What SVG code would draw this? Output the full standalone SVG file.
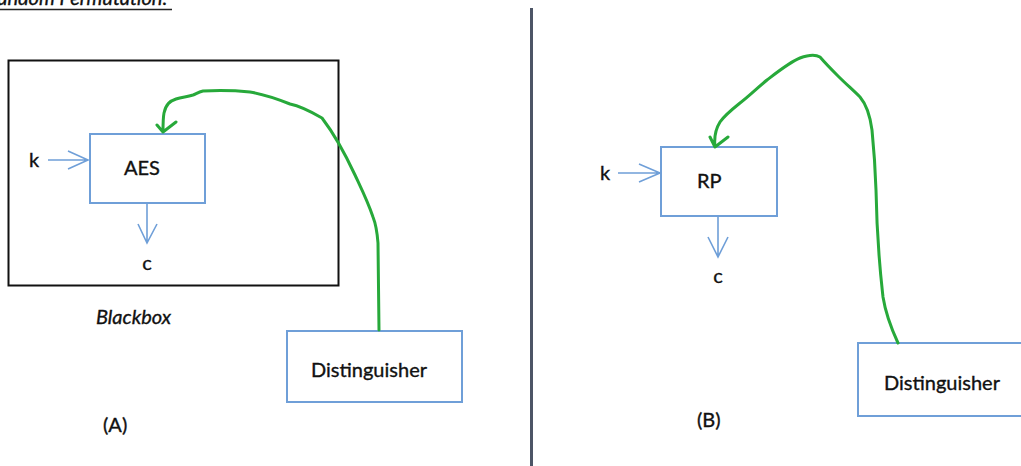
<svg xmlns="http://www.w3.org/2000/svg" width="1021" height="466" viewBox="0 0 1021 466">
<style>
text{font-family:Lato,"Open Sans","Liberation Sans",sans-serif;fill:#111;font-size:20px;stroke:#111;stroke-width:0.35}
.box{fill:#fff;stroke:#6f9fd8;stroke-width:2}
.blue{fill:none;stroke:#6f9fd8;stroke-width:1.6}
.green{fill:none;stroke:#27a93a;stroke-width:3;stroke-linecap:round;stroke-linejoin:round}
.c{text-anchor:middle}
</style>
<rect width="1021" height="466" fill="#fff"/>
<text x="-14" y="5" font-style="italic">Random Permutation:</text>
<line x1="0" y1="9.5" x2="172" y2="9.5" stroke="#222" stroke-width="1.5"/>
<line x1="531.5" y1="8" x2="531.5" y2="466" stroke="#4d5566" stroke-width="3"/>
<g id="blackbox">
<rect x="8.5" y="60.5" width="330" height="225" fill="none" stroke="#111" stroke-width="2"/>
<text x="96" y="324" font-style="italic" font-size="19">Blackbox</text>
</g>
<g id="aes">
<rect class="box" x="90" y="134" width="115" height="69"/>
<text class="c" x="142" y="175">AES</text>
</g>
<g id="k-a"><text x="29" y="167">k</text></g>
<g id="c-a"><text class="c" x="147" y="270">c</text></g>
<g id="dist-a">
<rect class="box" x="287" y="331" width="175" height="71"/>
<text class="c" x="369" y="377">Distinguisher</text>
</g>
<g id="label-a"><text x="103" y="432">(A)</text></g>
<g id="rp">
<rect class="box" x="661" y="147" width="116" height="69"/>
<text x="697" y="188">RP</text>
</g>
<g id="k-b"><text x="600" y="180">k</text></g>
<g id="c-b"><text class="c" x="718" y="283">c</text></g>
<g id="dist-b">
<rect class="box" x="858" y="343" width="175" height="73"/>
<text x="884" y="390">Distinguisher</text>
</g>
<g id="label-b"><text x="697" y="427">(B)</text></g>
<g id="connectors">
<path class="blue" d="M48 160H88M68 151L88 160L68 169"/>
<path class="blue" d="M147 203V243M138 224L147 243L157 224"/>
<path class="blue" d="M618 173H660M639 164L660 173L639 182"/>
<path class="blue" d="M718 216V257M708 237L718 257L728 237"/>
<path class="green" d="M379 330L378 243C377 230 375 222 373 217C368 202 362 190 355 175C348 160 335 135 322 118C310 111 300 106 290 104C275 98 262 94 250 92C240 91 222 90 203 91C198 92 196 94 193 95C186 97 182 97 176 99C170 101 166 104 164 113C163 118 163 126 163 132M157 125L163 132L176 122"/>
<path class="green" d="M898 343C892 330 886 316 883 297C880 270 877 245 876 190C875 160 873 140 872 130C870 115 866 104 860 97C853 90 846 84 838 76C832 70 826 64 820 57C815 54 808 55 800 58C790 62 780 70 767 80C755 90 748 97 740 103C730 111 724 116 720 122C715 130 714 138 715 147M710 137L715 147L728 137"/>
</g>
</svg>
